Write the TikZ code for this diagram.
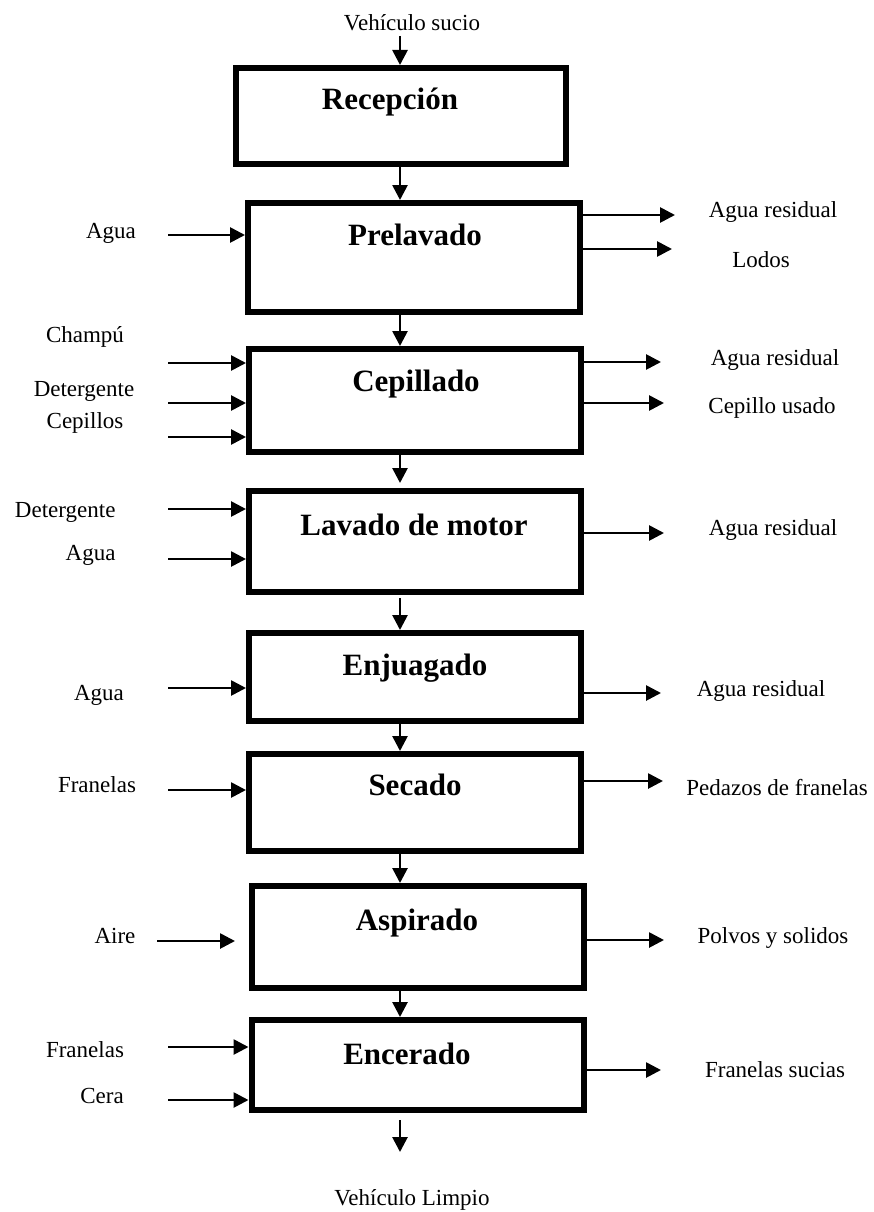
\documentclass[tikz,border=0pt]{standalone}
\usepackage{fontspec}
\setmainfont{Liberation Serif}
\usetikzlibrary{arrows.meta}

\begin{document}
\begin{tikzpicture}[x=1pt,y=-1pt,
  stage/.style={draw=black,line width=6pt,inner sep=0pt,minimum width=332pt},
  title/.style={font=\fontsize{31}{31}\selectfont\bfseries,anchor=base},
  lbl/.style={font=\fontsize{23}{23}\selectfont,anchor=base},
  flow/.style={line width=2.7pt,-{Triangle[length=15pt,width=15pt]}}
]
\useasboundingbox (0,0) rectangle (874,1212);

% process stages (node size = centre line of the thick frame)
\node[stage,minimum width=330pt,minimum height=96pt]  (rec) at (401,116) {};
\node[stage,minimum height=109pt] (pre) at (414,257.5) {};
\node[stage,minimum height=103pt] (cep) at (415,400.5) {};
\node[stage,minimum height=101pt] (lav) at (415,541.5) {};
\node[stage,minimum height=88pt]  (enj) at (415,677) {};
\node[stage,minimum height=97pt]  (sec) at (415,802.5) {};
\node[stage,minimum height=102pt] (asp) at (417.5,937) {};
\node[stage,minimum height=90pt]  (enc) at (417.5,1065) {};

% stage titles
\node[title] (recT) at (390,110) {Recepción};
\node[title] (preT) at (415,245) {Prelavado};
\node[title] (cepT) at (416,391) {Cepillado};
\node[title] (lavT) at (414,535) {Lavado de motor};
\node[title] (enjT) at (415,675) {Enjuagado};
\node[title] (secT) at (415,795) {Secado};
\node[title] (aspT) at (417,930) {Aspirado};
\node[title] (encT) at (407,1064) {Encerado};

% main line
\node[lbl] (vin) at (412,31) {Vehículo sucio};
\node[lbl] (vout) at (412,1205) {Vehículo Limpio};
\coordinate (topin) at (400,36);
\coordinate (botout) at (400,1152);
\draw[flow] (topin) -- (rec.north -| topin);
\draw[flow] (rec.south -| topin) -- (pre.north -| topin);
\draw[flow] (pre.south -| topin) -- (cep.north -| topin);
\draw[flow,shorten >=5pt] (cep.south -| topin) -- (lav.north -| topin);
\draw[flow,shorten <=3pt] (lav.south -| topin) -- (enj.north -| topin);
\draw[flow] (enj.south -| topin) -- (sec.north -| topin);
\draw[flow] (sec.south -| topin) -- (asp.north -| topin);
\draw[flow] (asp.south -| topin) -- (enc.north -| topin);
\draw[flow,shorten <=7pt] (enc.south -| topin) -- (botout);

% inputs
\node[lbl] (i1) at (111,238) {Agua};
\draw[flow] (168,235) -- (pre.west |- 0,235);

\node[lbl] (i2) at (85,342) {Champú};
\node[lbl] (i3) at (84,396) {Detergente};
\node[lbl] (i4) at (85,428) {Cepillos};
\draw[flow] (168,363) -- (cep.west |- 0,363);
\draw[flow] (168,403) -- (cep.west |- 0,403);
\draw[flow] (168,437) -- (cep.west |- 0,437);

\node[lbl,anchor=base east] (i5) at (119,517) {Detergente};
\node[lbl,anchor=base east] (i6) at (119,560) {Agua};
\draw[flow] (168,509) -- (lav.west |- 0,509);
\draw[flow] (168,559) -- (lav.west |- 0,559);

\node[lbl] (i7) at (99,700) {Agua};
\draw[flow] (168,688) -- (enj.west |- 0,688);

\node[lbl] (i8) at (97,792) {Franelas};
\draw[flow] (168,790) -- (sec.west |- 0,790);

\node[lbl] (i9) at (115,943) {Aire};
\draw[flow] (157,941) -- (235,941);

\node[lbl] (i10) at (85,1057) {Franelas};
\node[lbl] (i11) at (102,1103) {Cera};
\draw[flow] (168,1047) -- (enc.west |- 0,1047);
\draw[flow] (168,1100) -- (enc.west |- 0,1100);

% outputs
\node[lbl] (o1) at (773,217) {Agua residual};
\node[lbl] (o2) at (761,267) {Lodos};
\draw[flow] (pre.east |- 0,215) -- (675,215);
\draw[flow] (pre.east |- 0,249) -- (672,249);

\node[lbl] (o3) at (775,365) {Agua residual};
\node[lbl] (o4) at (772,413) {Cepillo usado};
\draw[flow] (cep.east |- 0,362) -- (661,362);
\draw[flow] (cep.east |- 0,403) -- (664,403);

\node[lbl] (o5) at (773,535) {Agua residual};
\draw[flow] (lav.east |- 0,533) -- (664,533);

\node[lbl] (o6) at (761,696) {Agua residual};
\draw[flow] (enj.east |- 0,693) -- (661,693);

\node[lbl] (o7) at (777,795) {Pedazos de franelas};
\draw[flow] (sec.east |- 0,781) -- (663,781);

\node[lbl] (o8) at (773,943) {Polvos y solidos};
\draw[flow] (asp.east |- 0,940) -- (664,940);

\node[lbl] (o9) at (775,1077) {Franelas sucias};
\draw[flow] (enc.east |- 0,1070) -- (661,1070);
\end{tikzpicture}
\end{document}
